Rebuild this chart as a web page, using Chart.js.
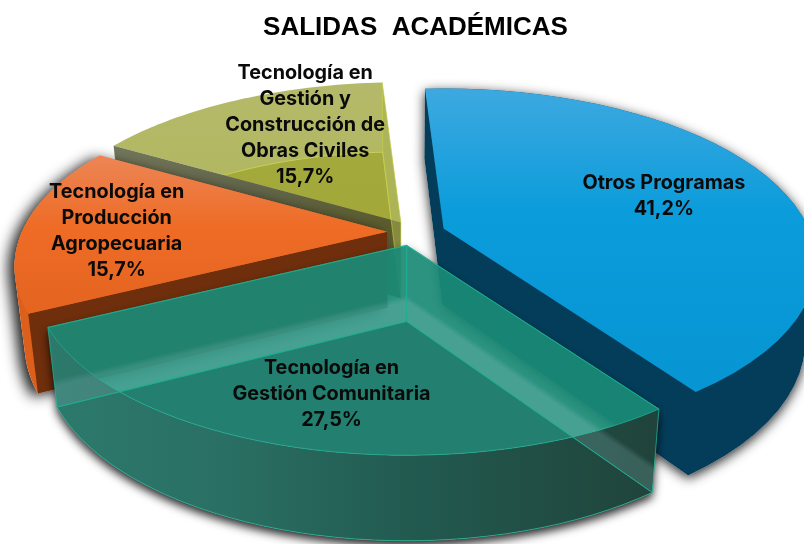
<!DOCTYPE html>
<html><head><meta charset="utf-8">
<style>html,body{margin:0;padding:0;background:#fff}#w{width:804px;height:544px;position:relative}</style>
<script src="https://cdn.jsdelivr.net/npm/chart.js@4"></script>
</head><body><div id="w"><canvas id="c" width="804" height="544"></canvas></div>
<script>
const titleText = 'SALIDAS  ACADÉMICAS';
const categories = [['Otros Programas'],['Tecnología en','Gestión Comunitaria'],['Tecnología en','Producción','Agropecuaria'],['Tecnología en','Gestión y','Construcción de','Obras Civiles']];
const values = [41.2,27.5,15.7,15.7];
const baseColors = ['#0a9ad9','#1b977b','#ee6b24','#a8ad48'];
const explode = [43,30,15,25];

// view settings of the tilted 3-D projection
const TILT=0.46, PERSP=0.2, DEPTH=76, CONVERGE=0.026, VIEW_SHIFT=-13.5;
const apexNudge=[[1,3],[12,0],[0,0],[12,0]];
const labelFrac=[0.7,0.75,0.75,0.75];
const labelNudge=[[-10,5],[3,6],[2,3.5],[32,-2]];

function fmt(v){return v.toFixed(1).replace('.',',')+'%';}

const pie3d={id:'pie3d',beforeDatasetsDraw(chart){
  const ctx=chart.ctx, arcs=chart.getDatasetMeta(0).data;
  const R=arcs[0].outerRadius, cx=arcs[0].x+VIEW_SHIFT, cy=arcs[0].y;
  function apex(i){const e=arcs[i],m=(e.startAngle+e.endAngle)/2,o=e.options.offset;
    return {x:cx+o*Math.cos(m)+apexNudge[i][0],y:cy+o*Math.sin(m)*TILT+apexNudge[i][1]};}
  function P(i,f,a,z){const A=apex(i),u=f*R*Math.cos(a),v=f*R*Math.sin(a),s=1/(1-PERSP*v/R);
    let x=A.x+u*s,y=A.y+v*TILT*s+z*DEPTH*(1+(s-1)*0.5);x-=(x-cx)*CONVERGE*z;return [x,y];}
  function arc(i,z){const e=arcs[i],o=[],n=40;for(let k=0;k<=n;k++)o.push(P(i,1,e.startAngle+(e.endAngle-e.startAngle)*k/n,z));return o;}
  function poly(p){ctx.beginPath();p.forEach((q,k)=>k?ctx.lineTo(q[0],q[1]):ctx.moveTo(q[0],q[1]));ctx.closePath();}
  function face(i,z){return [P(i,0,0,z)].concat(arc(i,z));}
  function cut(i,ang,z0,z1){return [P(i,0,0,z0),P(i,1,ang,z0),P(i,1,ang,z1),P(i,0,0,z1)];}
  function outer(i,z0,z1){return arc(i,z0).concat(arc(i,z1).reverse());}
  function hull(pts){const p=pts.slice().sort((a,b)=>a[0]-b[0]||a[1]-b[1]);
    const cr=(o,a,b)=>(a[0]-o[0])*(b[1]-o[1])-(a[1]-o[1])*(b[0]-o[0]);
    const lo=[],up=[];for(const q of p){while(lo.length>1&&cr(lo[lo.length-2],lo[lo.length-1],q)<=0)lo.pop();lo.push(q);}
    for(const q of p.slice().reverse()){while(up.length>1&&cr(up[up.length-2],up[up.length-1],q)<=0)up.pop();up.push(q);}
    return lo.slice(0,-1).concat(up.slice(0,-1));}
  function sil(i){return hull(face(i,0).concat(face(i,1)));}
  function shadow(i,alpha,blur,ox,oy){const h=sil(i);ctx.save();
    ctx.beginPath();ctx.rect(0,0,804,544);h.forEach((q,k)=>k?ctx.lineTo(q[0],q[1]):ctx.moveTo(q[0],q[1]));ctx.closePath();ctx.clip('evenodd');
    ctx.shadowColor='rgba(0,0,0,'+alpha+')';ctx.shadowBlur=blur;ctx.shadowOffsetX=2000+ox;ctx.shadowOffsetY=oy;
    ctx.fillStyle='#000';ctx.beginPath();h.forEach((q,k)=>k?ctx.lineTo(q[0]-2000,q[1]):ctx.moveTo(q[0]-2000,q[1]));ctx.closePath();ctx.fill();ctx.restore();}
  function vgrad(y0,y1,stops){const g=ctx.createLinearGradient(0,y0,0,y1);stops.forEach(s=>g.addColorStop(s[0],s[1]));return g;}
  function hgrad(x0,x1,stops){const g=ctx.createLinearGradient(x0,0,x1,0);stops.forEach(s=>g.addColorStop(s[0],s[1]));return g;}
  function stroke(p,c,w){poly(p);ctx.strokeStyle=c;ctx.lineWidth=w||1;ctx.stroke();}
  ctx.save();ctx.lineJoin='round';

  // Gestión y Construcción (index 3): translucent olive
  const ol=arcs[3];
  poly(face(3,1));ctx.fillStyle='rgba(140,145,20,0.35)';ctx.fill();
  poly(face(3,0));ctx.fillStyle=vgrad(80,222,[[0,'rgba(176,182,98,0.95)'],[1,'rgba(172,178,84,0.95)']]);ctx.fill();
  ctx.save();poly(face(3,0));ctx.clip();poly(face(3,1));ctx.fillStyle='rgba(150,155,20,0.45)';ctx.fill();
  poly(face(3,1));ctx.strokeStyle='rgba(205,215,90,0.8)';ctx.stroke();ctx.restore();
  poly(cut(3,ol.startAngle,0,1));ctx.fillStyle=hgrad(113,401,[[0,'#73775a'],[.5,'#62654a'],[1,'#5b5c2a']]);ctx.fill();

  // Producción Agropecuaria (index 2): solid orange
  const or=arcs[2];
  shadow(2,0.9,14,-6,3);
  poly(sil(2));ctx.fillStyle='#dd5f1c';ctx.fill();
  poly(cut(2,or.startAngle,0,1));ctx.fillStyle='#6f2e0c';ctx.fill();
  poly(face(2,0));ctx.fillStyle=vgrad(155,312,[[0,'#ec8656'],[.45,'#ee6c26'],[1,'#e46420']]);ctx.fill();

  // right wall of the olive slice, in front of the orange one
  poly(cut(3,ol.endAngle,0,1));ctx.fillStyle='rgba(170,176,80,0.55)';ctx.fill();
  stroke(cut(3,ol.endAngle,0,1),'rgba(200,210,70,0.6)',1);

  // Otros Programas (index 0): solid blue
  shadow(0,0.85,12,0,3);
  poly(sil(0));ctx.fillStyle='#033d5a';ctx.fill();
  poly(face(0,0));ctx.fillStyle=vgrad(85,387,[[0,'#3fa9e0'],[.42,'#0b9cdb'],[1,'#0795d3']]);ctx.fill();

  // Gestión Comunitaria (index 1): translucent teal
  const te=arcs[1];
  shadow(1,0.85,10,0,5);
  poly(outer(1,0,1));ctx.fillStyle=hgrad(47,650,[[0,'#2c7a6c'],[.3,'#2a6f63'],[.6,'#225a50'],[1,'#20443b']]);ctx.fill();
  poly(face(1,0));ctx.fillStyle='rgba(26,138,118,0.92)';ctx.fill();
  // bottom face seen through the top
  ctx.save();poly(face(1,0));ctx.clip();poly(face(1,1));ctx.fillStyle='rgba(30,113,101,0.6)';ctx.fill();ctx.restore();
  // soft light band on the inner walls
  [te.startAngle,te.endAngle].forEach(a=>{
    for(let k=0;k<7;k++){poly(cut(1,a,0.66+k*0.012,1));ctx.fillStyle='rgba(140,195,180,0.045)';ctx.fill();}
  });
  const tc='rgba(30,175,145,0.8)';
  stroke(face(1,0),tc);
  stroke(face(1,1),tc);
  [te.startAngle,te.endAngle].forEach(a=>stroke(cut(1,a,0,1),tc));

  // labels
  ctx.fillStyle='#0a0a0a';ctx.textAlign='center';ctx.textBaseline='middle';
  ctx.font='700 19.8px Inter';
  arcs.forEach((e,i)=>{
    const m=(e.startAngle+e.endAngle)/2,p=P(i,labelFrac[i],m,0);
    const lines=categories[i].concat([fmt(values[i])]),lh=26;
    const x=p[0]+labelNudge[i][0],y=p[1]+labelNudge[i][1];
    lines.forEach((t,k)=>ctx.fillText(t,x,y+(k-(lines.length-1)/2)*lh));
  });
  ctx.restore();
  return false;
}};

new Chart(document.getElementById('c'),{
  type:'pie',
  data:{labels:categories,datasets:[{data:values,backgroundColor:baseColors,offset:explode,radius:365,borderWidth:0}]},
  options:{responsive:false,animation:false,rotation:-3.5,
    layout:{padding:{left:27,bottom:130}},
    plugins:{legend:{display:false},tooltip:{enabled:false},
      title:{display:true,text:titleText,color:'#000',font:{family:'"Liberation Sans"',size:26,weight:'700'},padding:{top:12,bottom:6.8}}}},
  plugins:[pie3d]
});
</script></body></html>
